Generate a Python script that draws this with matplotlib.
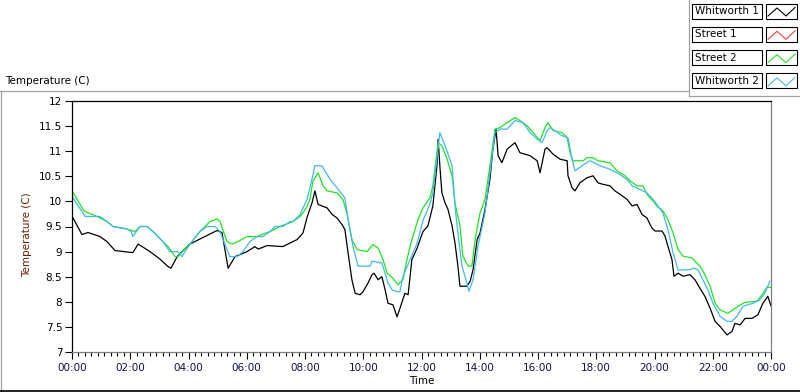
import matplotlib
matplotlib.use('Agg')
import matplotlib.pyplot as plt
import matplotlib.transforms as mtransforms
from matplotlib.patches import Rectangle
from matplotlib.lines import Line2D
from matplotlib.ticker import MultipleLocator, FuncFormatter

# --- data (time in hours since 00:00, temperature in C) ---
w1_hours = [0.00, 0.34, 0.55, 0.96, 1.20, 1.48, 2.09, 2.27, 2.68, 3.02,
            3.30, 3.40, 3.61, 3.78, 4.05, 4.39, 4.74, 4.98, 5.15, 5.36,
            5.60, 6.01, 6.28, 6.39, 6.70, 7.24, 7.59, 7.73, 7.93, 8.07,
            8.24, 8.34, 8.45, 8.76, 8.93, 9.10, 9.27, 9.37, 9.48, 9.61,
            9.72, 9.89, 9.99, 10.16, 10.30, 10.37, 10.51, 10.64, 10.75, 10.85,
            11.02, 11.16, 11.26, 11.43, 11.54, 11.67, 11.85, 12.05, 12.22, 12.39,
            12.53, 12.57, 12.63, 12.70, 12.81, 12.91, 13.05, 13.15, 13.25, 13.32,
            13.56, 13.67, 13.77, 13.91, 14.01, 14.18, 14.35, 14.45, 14.56, 14.63,
            14.76, 14.94, 15.21, 15.38, 15.73, 15.97, 16.07, 16.24, 16.31, 16.52,
            16.76, 17.00, 17.03, 17.17, 17.27, 17.44, 17.68, 17.89, 18.06, 18.23,
            18.47, 18.64, 18.82, 19.06, 19.23, 19.40, 19.57, 19.74, 19.91, 20.02,
            20.26, 20.36, 20.46, 20.60, 20.67, 20.81, 20.98, 21.22, 21.39, 21.56,
            21.73, 21.91, 22.08, 22.25, 22.49, 22.66, 22.76, 22.94, 23.11, 23.35,
            23.55, 23.72, 23.89, 24.00]
w1_temp = [9.71, 9.34, 9.38, 9.30, 9.20, 9.02, 8.98, 9.15, 9.00, 8.85,
           8.70, 8.67, 8.90, 9.00, 9.15, 9.25, 9.35, 9.42, 9.38, 8.67,
           8.90, 9.00, 9.10, 9.05, 9.12, 9.10, 9.20, 9.24, 9.37, 9.68,
           9.97, 10.21, 9.94, 9.87, 9.74, 9.67, 9.54, 9.44, 8.97, 8.44,
           8.17, 8.14, 8.20, 8.37, 8.54, 8.57, 8.44, 8.50, 8.24, 7.97,
           7.94, 7.70, 7.87, 8.17, 8.14, 8.84, 9.07, 9.40, 9.51, 9.91,
           10.71, 11.24, 10.71, 10.17, 9.97, 9.84, 9.51, 9.17, 8.71, 8.31,
           8.31, 8.41, 8.64, 9.24, 9.37, 9.84, 10.44, 11.04, 11.44, 10.91,
           10.77, 11.04, 11.17, 10.97, 10.91, 10.81, 10.57, 11.04, 11.07, 10.94,
           10.84, 10.81, 10.51, 10.27, 10.21, 10.37, 10.47, 10.51, 10.37, 10.34,
           10.31, 10.21, 10.14, 10.04, 9.91, 9.94, 9.74, 9.67, 9.47, 9.41,
           9.41, 9.31, 9.11, 8.84, 8.51, 8.57, 8.51, 8.54, 8.44, 8.27,
           8.11, 7.87, 7.61, 7.51, 7.34, 7.41, 7.57, 7.54, 7.67, 7.67,
           7.74, 7.97, 8.11, 7.92]

# Street 1 has no visible trace on the chart
s1_hours = []
s1_temp = []

s2_hours = [0.00, 0.41, 0.86, 1.20, 1.41, 1.89, 2.16, 2.33, 2.58, 2.78,
            3.12, 3.30, 3.54, 3.64, 3.78, 4.12, 4.39, 4.57, 4.74, 4.98,
            5.08, 5.32, 5.49, 5.70, 6.01, 6.35, 6.56, 6.80, 7.14, 7.59,
            7.83, 7.93, 8.07, 8.17, 8.27, 8.45, 8.62, 8.76, 9.10, 9.30,
            9.44, 9.61, 9.79, 10.13, 10.33, 10.51, 10.68, 10.82, 11.02, 11.19,
            11.36, 11.50, 11.67, 11.88, 12.05, 12.29, 12.39, 12.57, 12.70, 12.88,
            13.05, 13.15, 13.32, 13.42, 13.60, 13.73, 13.84, 14.01, 14.18, 14.35,
            14.52, 14.70, 14.94, 15.21, 15.38, 15.62, 15.83, 16.07, 16.24, 16.34,
            16.52, 16.82, 17.00, 17.10, 17.20, 17.55, 17.68, 17.89, 18.06, 18.47,
            18.71, 18.99, 19.16, 19.40, 19.60, 19.78, 19.95, 20.09, 20.29, 20.46,
            20.64, 20.81, 20.98, 21.29, 21.39, 21.56, 21.73, 21.91, 22.08, 22.25,
            22.52, 22.69, 22.87, 23.11, 23.52, 23.69, 23.86, 24.00]
s2_temp = [10.21, 9.81, 9.70, 9.60, 9.50, 9.45, 9.40, 9.50, 9.50, 9.40,
           9.20, 9.10, 8.90, 8.90, 9.00, 9.20, 9.40, 9.50, 9.60, 9.65,
           9.60, 9.20, 9.15, 9.20, 9.30, 9.30, 9.35, 9.40, 9.50, 9.60,
           9.70, 9.77, 9.90, 10.04, 10.40, 10.57, 10.31, 10.21, 10.17, 10.04,
           9.77, 9.24, 9.04, 9.00, 9.14, 9.07, 8.84, 8.57, 8.47, 8.34,
           8.44, 8.84, 9.24, 9.64, 9.87, 10.07, 10.31, 11.17, 11.11, 10.84,
           10.51, 9.97, 9.51, 8.91, 8.71, 8.71, 9.24, 9.77, 10.04, 10.71,
           11.44, 11.47, 11.57, 11.67, 11.61, 11.51, 11.37, 11.21, 11.47, 11.57,
           11.41, 11.37, 11.27, 10.97, 10.81, 10.81, 10.87, 10.87, 10.81, 10.77,
           10.61, 10.51, 10.41, 10.31, 10.31, 10.11, 10.01, 9.90, 9.81, 9.64,
           9.37, 9.04, 8.91, 8.87, 8.81, 8.71, 8.54, 8.31, 7.97, 7.84,
           7.77, 7.84, 7.91, 7.99, 8.01, 8.14, 8.29, 8.29]

w2_hours = [0.00, 0.45, 0.96, 1.20, 1.41, 1.89, 2.03, 2.09, 2.33, 2.58,
            2.78, 3.12, 3.36, 3.64, 3.78, 3.88, 4.12, 4.39, 4.64, 4.91,
            5.08, 5.42, 5.67, 5.87, 6.11, 6.35, 6.56, 6.80, 6.97, 7.24,
            7.49, 7.59, 7.83, 8.07, 8.24, 8.34, 8.58, 8.86, 9.10, 9.37,
            9.48, 9.65, 9.82, 10.23, 10.30, 10.64, 10.75, 10.85, 10.99, 11.16,
            11.26, 11.36, 11.61, 11.85, 12.05, 12.29, 12.39, 12.63, 12.81, 13.05,
            13.15, 13.25, 13.39, 13.56, 13.63, 13.77, 13.94, 14.18, 14.35, 14.52,
            14.70, 14.94, 15.21, 15.48, 15.73, 15.97, 16.14, 16.31, 16.41, 16.58,
            16.82, 17.03, 17.17, 17.27, 17.51, 17.79, 18.13, 18.47, 18.71, 19.06,
            19.23, 19.50, 19.74, 19.95, 20.12, 20.29, 20.46, 20.64, 20.81, 21.22,
            21.32, 21.49, 21.66, 21.83, 22.01, 22.25, 22.49, 22.66, 22.83, 23.04,
            23.38, 23.62, 23.79, 23.96]
w2_temp = [10.10, 9.70, 9.70, 9.60, 9.50, 9.45, 9.40, 9.30, 9.50, 9.50,
           9.40, 9.20, 9.00, 9.00, 8.90, 9.00, 9.20, 9.40, 9.50, 9.50,
           9.40, 8.90, 8.90, 9.00, 9.20, 9.30, 9.30, 9.40, 9.50, 9.50,
           9.60, 9.60, 9.74, 10.04, 10.44, 10.71, 10.71, 10.44, 10.27, 10.07,
           9.64, 9.10, 8.71, 8.71, 8.81, 8.77, 8.57, 8.37, 8.24, 8.20,
           8.20, 8.50, 8.84, 9.17, 9.62, 9.95, 10.17, 11.37, 11.11, 10.71,
           9.91, 9.37, 8.71, 8.37, 8.21, 8.44, 9.11, 9.77, 10.57, 11.37,
           11.44, 11.44, 11.61, 11.57, 11.37, 11.24, 11.17, 11.40, 11.47, 11.41,
           11.31, 11.27, 10.84, 10.61, 10.71, 10.81, 10.71, 10.64, 10.57, 10.44,
           10.31, 10.24, 10.17, 10.04, 9.91, 9.77, 9.44, 8.97, 8.63, 8.64,
           8.67, 8.64, 8.44, 8.24, 7.97, 7.71, 7.61, 7.61, 7.71, 7.91,
           7.97, 8.04, 8.17, 8.41]

names = ['Whitworth 1', 'Street 1', 'Street 2', 'Whitworth 2']
colors = ['#000000', '#ff3c3c', '#1ee61e', '#41b8f5']

FONT = 7.5
plt.rcParams['font.family'] = ['DejaVu Sans']

fig = plt.figure(figsize=(8, 3.92), dpi=100)
fig.patch.set_facecolor('white')
# pixel coordinates (origin top-left) for the panel decoration
px = mtransforms.Affine2D().scale(1 / 800, -1 / 392).translate(0, 1) + fig.transFigure

ax = fig.add_axes([72 / 800, 1 - 352 / 392, 699 / 800, 251 / 392])
series = [(w1_hours, w1_temp), (s1_hours, s1_temp), (s2_hours, s2_temp), (w2_hours, w2_temp)]
for (h, t), c in zip(series, colors):
    ax.plot(h, t, color=c, linewidth=0.9)

ax.set_xlim(0, 24)
ax.set_ylim(7, 12)
ax.xaxis.set_major_locator(MultipleLocator(2))
ax.xaxis.set_minor_locator(MultipleLocator(2 / 9))
ax.xaxis.set_major_formatter(FuncFormatter(lambda v, p: '%02d:00' % (int(round(v)) % 24)))
ax.yaxis.set_major_locator(MultipleLocator(0.5))
ax.yaxis.set_major_formatter(FuncFormatter(lambda v, p: ('%g' % v)))

ax.tick_params(axis='x', which='major', length=5, width=0.8, pad=3, labelsize=FONT,
               colors='#000000', labelcolor='#10104a')
ax.tick_params(axis='x', which='minor', length=3, width=0.8)
ax.tick_params(axis='y', which='major', length=5, width=0.8, pad=2, labelsize=FONT)

for side in ['left', 'top']:
    ax.spines[side].set_color('#000000')
    ax.spines[side].set_linewidth(0.9)
for side in ['right', 'bottom']:
    ax.spines[side].set_color('#808080')
    ax.spines[side].set_linewidth(0.9)

ax.set_xlabel('Time', fontsize=FONT, labelpad=2)
ax.set_ylabel('Temperature (C)', fontsize=FONT, color='#6b1d00')
ax.yaxis.set_label_coords(-0.057, 0.466)

# chart title at top-left
fig.text(5, 81, 'Temperature (C)', transform=px, fontsize=FONT, va='center', ha='left')

# panel frame lines
fig.add_artist(Line2D([0, 688], [91, 91], transform=px, color='#a0a0a0', lw=0.9))
fig.add_artist(Line2D([0.5, 0.5], [91, 392], transform=px, color='#a0a0a0', lw=0.9))
fig.add_artist(Line2D([0, 800], [391, 391], transform=px, color='#000000', lw=1.2))
fig.add_artist(Line2D([689, 689], [0, 96], transform=px, color='#a0a0a0', lw=0.9))
fig.add_artist(Line2D([689, 800], [96, 96], transform=px, color='#a0a0a0', lw=0.9))

# plot legend, LabVIEW style
for i, (name, c) in enumerate(zip(names, colors)):
    top = 3.5 + i * 23.3
    fig.add_artist(Rectangle((692, top), 70, 15, transform=px, facecolor='white',
                             edgecolor='#000000', lw=0.8))
    fig.add_artist(Rectangle((766, top), 31, 15, transform=px, facecolor='white',
                             edgecolor='#000000', lw=0.8))
    fig.text(695, top + 7.5, name, transform=px, fontsize=FONT, va='center', ha='left')
    fig.add_artist(Line2D([768, 777, 786, 795], [top + 12.5, top + 4.5, top + 12.5, top + 4],
                          transform=px, color=c, lw=0.8))

fig.savefig('out.png', dpi=100)
